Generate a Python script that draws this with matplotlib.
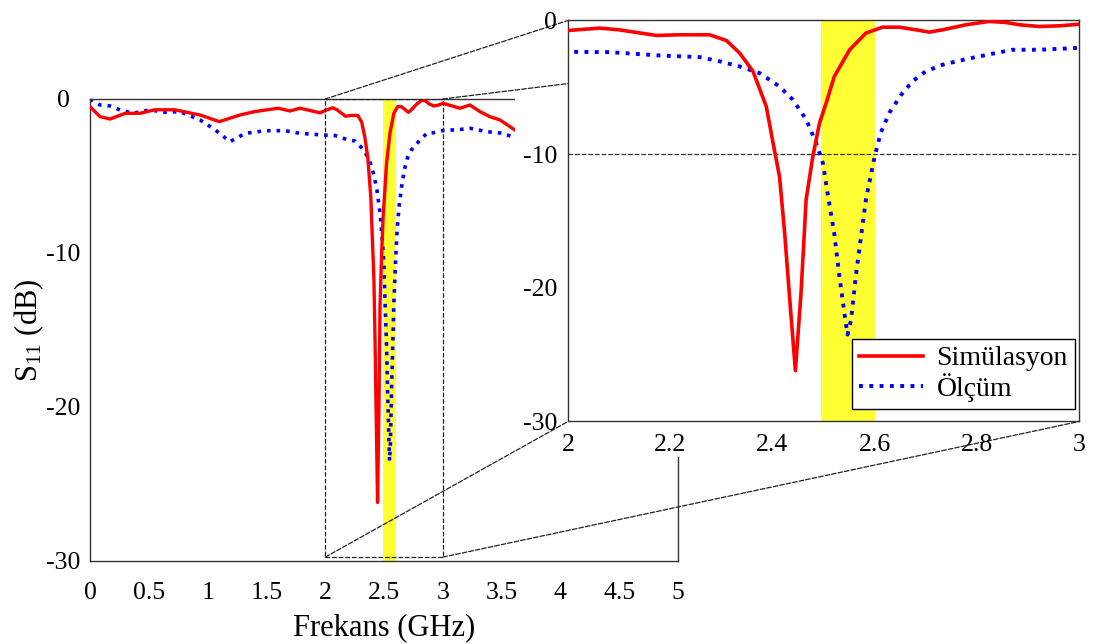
import numpy as np
import matplotlib.pyplot as plt
from matplotlib.patches import Rectangle, ConnectionPatch

plt.rcParams['font.family'] = ['Liberation Serif', 'DejaVu Serif']
plt.rcParams['mathtext.fontset'] = 'custom'
plt.rcParams['mathtext.rm'] = 'Liberation Serif'
plt.rcParams['mathtext.it'] = 'Liberation Serif:italic'
plt.rcParams['axes.unicode_minus'] = False

# --- Simulated S11 (dB) ---
f_sim = [0.0, 0.085, 0.17, 0.30, 0.425, 0.55, 0.72, 0.935, 1.1, 1.275, 1.40, 1.6, 1.7,
         1.786, 1.956, 2.0, 2.0625, 2.10, 2.173, 2.219, 2.277, 2.31, 2.336, 2.362, 2.388,
         2.40, 2.414, 2.424, 2.434, 2.445, 2.456, 2.466, 2.479, 2.492, 2.505, 2.521,
         2.551, 2.583, 2.616, 2.648, 2.681, 2.707, 2.733, 2.779, 2.824, 2.857, 2.883,
         2.922, 2.961, 3.0, 3.146, 3.23, 3.316, 3.40, 3.486, 3.62, 3.70]
s_sim = [-0.5, -1.15, -1.3, -0.93, -0.93, -0.7, -0.7, -1.04, -1.47, -1.04, -0.82, -0.6, -0.78,
         -0.6, -0.9, -0.75, -0.57, -0.70, -1.12, -1.07, -1.07, -1.5, -2.44, -3.8, -6.43,
         -8.9, -11.7, -15.9, -20.9, -26.2, -20.4, -13.4, -10.2, -7.7, -6.2, -4.2,
         -2.2, -0.94, -0.5, -0.5, -0.70, -0.87, -0.70, -0.32, -0.07, -0.15, -0.32,
         -0.45, -0.4, -0.28, -0.6, -0.39, -0.82, -1.15, -1.36, -2.05, -2.3]

# --- Measured S11 (dB) ---
f_meas = [0.0, 0.085, 0.17, 0.255, 0.366, 0.51, 0.64, 0.765, 0.935, 1.063, 1.19, 1.32,
          1.49, 1.66, 1.786, 1.98, 2.082, 2.18, 2.258, 2.297, 2.336, 2.375, 2.414, 2.44,
          2.466, 2.486, 2.499, 2.51, 2.521, 2.531, 2.541, 2.547, 2.554, 2.564, 2.583,
          2.60, 2.612, 2.629, 2.652, 2.674, 2.70, 2.733, 2.779, 2.83, 2.87, 2.922, 3.0,
          3.146, 3.23, 3.373, 3.514, 3.62, 3.70]
s_meas = [0.0, -0.39, -0.45, -0.71, -0.93, -0.71, -0.86, -0.82, -1.36, -2.0, -2.77, -2.23,
          -2.06, -2.06, -2.23, -2.34, -2.37, -2.62, -2.74, -3.06, -3.44, -3.94, -4.94, -5.93,
          -7.4, -9.2, -10.7, -13.4, -15.9, -19.1, -21.9, -23.5, -22.4, -18.9, -13.4,
          -10.2, -8.4, -6.9, -5.56, -4.56, -3.81, -3.31, -2.89, -2.49, -2.19, -2.19, -2.05,
          -1.98, -1.9, -2.12, -2.23, -2.55, -2.7]

band = (2.495, 2.60)
x_ticks_main = [0, 0.5, 1, 1.5, 2, 2.5, 3, 3.5, 4, 4.5, 5]
x_ticks_zoom = [2, 2.2, 2.4, 2.6, 2.8, 3]
y_ticks = [0, -10, -20, -30]
zoom_box = (2, 3, -29.75, 0)

fig = plt.figure(figsize=(10.98, 6.44), dpi=100)

# --- Main axes ---
ax = fig.add_axes([0.082, 0.1289, 0.5355, 0.7174])
ax.set_zorder(0)
ax.axvspan(band[0], band[1], color='#ffff33', lw=0, zorder=1)
ax.plot(f_sim, s_sim, color='red', lw=2.4, zorder=3)
ax.plot(f_meas, s_meas, color='blue', lw=2.6, ls=':', zorder=2)
ax.add_patch(Rectangle((zoom_box[0], zoom_box[2]), zoom_box[1] - zoom_box[0],
                       zoom_box[3] - zoom_box[2], fill=False, ls='--', lw=0.9,
                       ec='#222222', zorder=4))
ax.set_xlim(0, 5)
ax.set_ylim(-30, 0)
ax.set_xticks(x_ticks_main)
ax.set_xticklabels([f"{t:g}" for t in x_ticks_main])
ax.set_yticks(y_ticks)
ax.tick_params(axis='both', length=0, labelsize=18.5)
ax.tick_params(axis='x', pad=15)
ax.tick_params(axis='y', pad=19)
for lab in ax.get_yticklabels():
    lab.set_horizontalalignment('center')
for sp in ax.spines.values():
    sp.set_color('#333333')
    sp.set_linewidth(1.0)
ax.set_xlabel("Frekans (GHz)", fontsize=22, labelpad=7)
ax.set_ylabel(r"S$_{\mathrm{11}}$ (dB)", fontsize=22, labelpad=0)

# --- White backing behind the zoom panel ---
fig.add_artist(Rectangle((0.469, 0.2904), 0.531, 0.7096, transform=fig.transFigure,
                         fc='white', ec='none', zorder=1))

# --- Zoomed axes ---
axz = fig.add_axes([0.5173, 0.3455, 0.4654, 0.6227])
axz.set_zorder(3)
axz.axvspan(band[0], band[1], color='#ffff33', lw=0, zorder=1)
axz.axhline(-10, color='#333333', ls='--', lw=0.9, zorder=1.5)
axz.plot(f_sim, s_sim, color='red', lw=2.6, zorder=3, label='Simülasyon')
axz.plot(f_meas, s_meas, color='blue', lw=2.8, ls=':', zorder=2, label='Ölçüm')
axz.set_xlim(2, 3)
axz.set_ylim(-30, 0)
axz.set_xticks(x_ticks_zoom)
axz.set_xticklabels([f"{t:g}" for t in x_ticks_zoom])
axz.set_yticks(y_ticks)
axz.tick_params(axis='both', length=0, labelsize=18.5)
axz.tick_params(axis='x', pad=9)
axz.tick_params(axis='y', pad=8)
for sp in axz.spines.values():
    sp.set_color('#333333')
    sp.set_linewidth(1.0)
leg = axz.legend(loc='lower right', bbox_to_anchor=(0.992, 0.032), fontsize=20,
                 frameon=True, fancybox=False, framealpha=1, edgecolor='black',
                 handlelength=2.3, borderaxespad=0, borderpad=0.25,
                 labelspacing=0.05, handletextpad=0.5)
leg.get_frame().set_linewidth(1.0)

# --- Connector lines ---
for (xa, ya), (xb, yb) in [((zoom_box[0], zoom_box[3]), (0, 1)),
                           ((zoom_box[1], zoom_box[3]), (1, 1)),
                           ((zoom_box[0], zoom_box[2]), (0, 0)),
                           ((zoom_box[1], zoom_box[2]), (1, 0))]:
    con = ConnectionPatch(xyA=(xa, ya), coordsA=ax.transData,
                          xyB=(xb, yb), coordsB=axz.transAxes,
                          ls='--', lw=0.9, color='#222222', zorder=2)
    fig.add_artist(con)

fig.savefig("out.png", dpi=100)
